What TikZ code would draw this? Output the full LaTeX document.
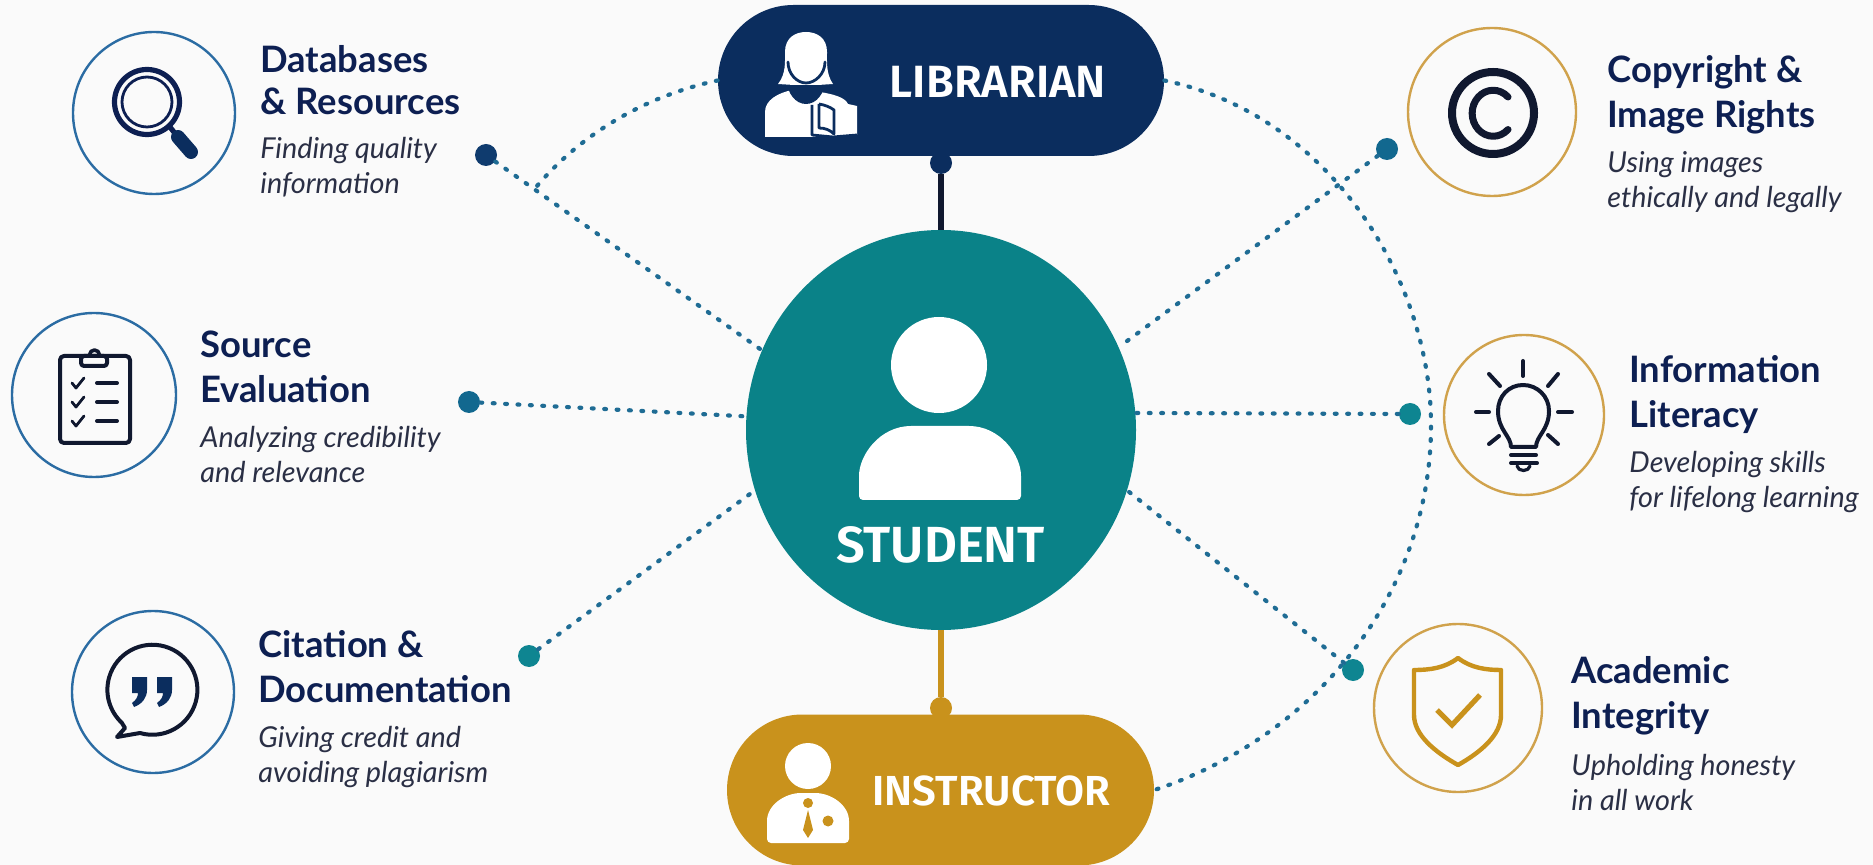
\documentclass[tikz,border=0pt]{standalone}
\usepackage{fontspec}
\setmainfont{Lato}
\newfontfamily\pillfont{Fira Sans SemiBold}
\usetikzlibrary{shapes.misc,shapes.geometric}
\definecolor{pagebg}{HTML}{FAFAFA}
\definecolor{tealhub}{HTML}{0A8288}
\definecolor{navypill}{HTML}{0B2D5E}
\definecolor{goldpill}{HTML}{C9921C}
\definecolor{titleink}{HTML}{0D1F52}
\definecolor{subink}{HTML}{2A2F45}
\definecolor{iconink}{HTML}{10182F}
\definecolor{ringblue}{HTML}{2B6CA3}
\definecolor{ringgold}{HTML}{D0A24C}
\definecolor{dotline}{HTML}{1F6C94}
\definecolor{dotnavy}{HTML}{0F3B6E}
\definecolor{dotblue}{HTML}{12688F}
\definecolor{dotteal}{HTML}{0E8591}
\tikzset{
  hubpill/.style={rounded rectangle, minimum width=#1, minimum height=75.5pt, inner sep=0pt},
  ringnode/.style={circle, minimum size=#1, inner sep=0pt, line width=1.2pt, fill=pagebg},
  enddot/.style={circle, minimum size=11pt, inner sep=0pt},
  dotted link/.style={draw=dotline, line width=2.1pt, line cap=round, dash pattern=on 0.9pt off 5.3pt},
  titletext/.style={anchor=base west, align=left, text=titleink, font={\fontsize{18.2}{22.5}\selectfont\bfseries}, inner sep=0pt},
  subtext/.style={anchor=base west, align=left, text=subink, font={\fontsize{14.4}{17.5}\selectfont\itshape}, inner sep=0pt},
  pilltext/.style={text=white, inner sep=0pt, font={\pillfont\fontsize{#1}{#1}\selectfont}},
  iconline/.style={draw=iconink, line width=2pt, line cap=round, line join=round}
}
\begin{document}
\begin{tikzpicture}[x=0.5pt,y=-0.5pt]
\path[use as bounding box, fill=pagebg] (0,0) rectangle (1873,865);
% hubs
\node[ellipse, fill=tealhub, minimum width=195pt, minimum height=200pt, inner sep=0pt] (student) at (941,430) {};
\node[hubpill=223pt, fill=navypill] (librarian) at (941,80.5) {};
\node[hubpill=213.5pt, fill=goldpill] (instructor) at (940.5,790) {};
\node[pilltext=22.6] (librarianlabel) at (998,82) {LIBRARIAN};
\node[pilltext=21] (instructorlabel) at (991.5,791) {INSTRUCTOR};
\node[pilltext=25.4] (studentlabel) at (940.5,545) {STUDENT};
% long dotted arcs
\coordinate (dbjoin) at (537,186);
\draw[dotted link] (librarian.west) .. controls (650,95) and (585,130) .. (dbjoin);
\draw[dotted link] (librarian.east) .. controls (1330,115) and (1431,280) .. (1431,425) .. controls (1431,590) and (1320,735) .. (instructor.east);
% end dots
\node[enddot, fill=dotnavy] (dbdot) at (486,155) {};
\node[enddot, fill=dotblue] (sourcedot) at (469,402) {};
\node[enddot, fill=dotteal] (citedot) at (529,656) {};
\node[enddot, fill=dotblue] (copydot) at (1387,149) {};
\node[enddot, fill=dotteal] (infodot) at (1410,414) {};
\node[enddot, fill=dotteal] (acaddot) at (1353,670) {};
\node[enddot, fill=navypill] (libdot) at (941,163) {};
\node[enddot, fill=goldpill] (instdot) at (941,708) {};
% links to the student
\draw[line width=3pt, draw=iconink] (libdot) -- (student);
\draw[line width=3pt, draw=goldpill] (instdot) -- (student);
\draw[dotted link] (dbdot) -- (student.156);
\draw[dotted link] (sourcedot) -- (student.176);
\draw[dotted link] (citedot) -- (student.198);
\draw[dotted link] (copydot) -- (student.25);
\draw[dotted link] (infodot) -- (student.5);
\draw[dotted link] (acaddot) -- (student.-18);
% rings
\node[ringnode=81pt, draw=ringblue] (dbring) at (154,113) {};
\node[ringnode=82pt, draw=ringblue] (sourcering) at (94,395) {};
\node[ringnode=81pt, draw=ringblue] (citering) at (153,692) {};
\node[ringnode=84pt, draw=ringgold] (copyring) at (1492,112) {};
\node[ringnode=80pt, draw=ringgold] (inforing) at (1524,415) {};
\node[ringnode=84pt, draw=ringgold] (acadring) at (1458,708) {};
% texts
\node[titletext] (dbtitle) at (260,115) {Databases\\[-1.5pt]\& Resources};
\node[subtext] (dbsub) at (260,194) {Finding quality\\information};
\node[titletext] (sourcetitle) at (200,403) {Source\\Evaluation};
\node[subtext] (sourcesub) at (200,483) {Analyzing credibility\\and relevance};
\node[titletext] (citetitle) at (258,702) {Citation \&\\Documentation};
\node[subtext] (citesub) at (258,782) {Giving credit and\\avoiding plagiarism};
\node[titletext] (copytitle) at (1607,128) {Copyright \&\\Image Rights};
\node[subtext] (copysub) at (1607,208) {Using images\\ethically and legally};
\node[titletext] (infotitle) at (1629,428) {Information\\Literacy};
\node[subtext] (infosub) at (1629,508) {Developing skills\\for lifelong learning};
\node[titletext] (acadtitle) at (1571,728) {Academic\\Integrity};
\node[subtext] (acadsub) at (1571,810) {Upholding honesty\\in all work};
% student figure
\fill[white] (939,365) circle (48);
\fill[white, rounded corners=2pt] (859,500) -- (859,480) .. controls (859,455) and (880,426) .. (915,426) -- (965,426) .. controls (1000,426) and (1021,455) .. (1021,480) -- (1021,500) -- cycle;
% librarian figure
\fill[white] (765,137) -- (765,112) .. controls (765,100) and (778,93) .. (792,90) -- (820,92) .. controls (832,94) and (845,97) .. (848,104) -- (857,106) -- (857,135) -- (833,137) -- cycle;
\fill[navypill] (806,80) ellipse (19 and 24);
\fill[white] (778,84) .. controls (786,74) and (785,62) .. (785,52) .. controls (785,38) and (795,32) .. (806,32) .. controls (817,32) and (827,38) .. (827,52) .. controls (827,62) and (826,74) .. (833,84) -- (818,85) -- (794,85) -- cycle;
\draw[navypill, line width=1.4pt, line cap=round] (788,62) .. controls (788,74) and (797,83) .. (806,83) .. controls (815,83) and (825,74) .. (825,62);
\draw[navypill, line width=1.4pt, line join=round] (812,105) -- (812,135) -- (833,137) -- (857,135);
\draw[navypill, line width=1.4pt, line join=round] (819,104) -- (819,128) .. controls (825,128) and (830,130) .. (834,134) -- (834,110) .. controls (830,107) and (825,105) .. (819,104);
% instructor figure
\fill[white] (808,766) circle (23);
\fill[white, rounded corners=2pt] (767,843) -- (767,825) .. controls (767,805) and (785,793) .. (805,793) -- (811,793) .. controls (831,793) and (849,805) .. (849,825) -- (849,843) -- cycle;
\fill[goldpill] (808,803) circle (5);
\fill[goldpill] (808,810) -- (813,830) -- (808,838) -- (803,830) -- cycle;
\fill[goldpill] (828,821) circle (5.5);
% magnifier
\draw[draw=titleink, line width=2.6pt] (147,102) circle (32.5);
\draw[draw=titleink, line width=1.4pt] (147,102) circle (25);
\draw[draw=titleink, line width=2.6pt] (170,127) -- (177,136);
\draw[draw=navypill, line width=7pt, line cap=round] (178,137) -- (191,152);
% clipboard
\draw[iconline, rounded corners=2pt] (60,356) rectangle (130,443);
\draw[iconline, fill=pagebg, rounded corners=1.5pt] (81,356) rectangle (107,366);
\draw[iconline, line width=1.8pt] (89.5,355) arc[start angle=180, end angle=360, radius=5];
\draw[iconline, line width=1.4pt] (72,383) -- (76,388) -- (84,378);
\draw[iconline, line width=1.4pt] (72,402) -- (76,407) -- (84,397);
\draw[iconline, line width=1.4pt] (72,421) -- (76,426) -- (84,416);
\draw[iconline] (97,383) -- (117,383);
\draw[iconline] (97,402) -- (117,402);
\draw[iconline] (97,421) -- (117,421);
% speech bubble
\draw[iconline] (140,733) arc[start angle=106, end angle=-227, radius=45] -- (125,728) -- (117,737) -- cycle;
\fill[navypill] (132,677) -- (147,677) -- (147,690) .. controls (147,698) and (142,704) .. (134,707) -- (132,703) .. controls (136,700) and (138,697) .. (138,693) -- (132,693) -- cycle;
\fill[navypill] (157,677) -- (172,677) -- (172,690) .. controls (172,698) and (167,704) .. (159,707) -- (157,703) .. controls (161,700) and (163,697) .. (163,693) -- (157,693) -- cycle;
% copyright mark
\draw[iconline, line width=4pt] (1493,113) circle (41);
\draw[iconline, line width=3.5pt] (1508,97) arc[start angle=-45, end angle=-315, x radius=21, y radius=23];
% bulb
\draw[iconline] (1511,447) .. controls (1511,436) and (1498,430) .. (1498,411) .. controls (1498,396) and (1509,385) .. (1523,385) .. controls (1537,385) and (1549,396) .. (1549,411) .. controls (1549,430) and (1536,436) .. (1536,447) -- cycle;
\draw[iconline] (1511,455) -- (1536,455);
\draw[iconline] (1511,463) -- (1537,463);
\draw[iconline, line width=1.6pt] (1517,466) .. controls (1518,472) and (1529,472) .. (1530,466);
\draw[iconline] (1523,361) -- (1523,376);
\draw[iconline] (1489,374) -- (1500,386);
\draw[iconline] (1558,374) -- (1548,386);
\draw[iconline] (1476,412) -- (1489,412);
\draw[iconline] (1558,412) -- (1572,412);
\draw[iconline] (1489,444) -- (1499,436);
\draw[iconline] (1558,444) -- (1548,435);
% shield
\draw[draw=goldpill, line width=2.2pt, line join=round] (1458,658) .. controls (1445,668) and (1430,670) .. (1414,670) -- (1414,715) .. controls (1414,735) and (1435,752) .. (1458,765) .. controls (1481,752) and (1501,735) .. (1501,715) -- (1501,670) .. controls (1486,670) and (1471,668) .. (1458,658) -- cycle;
\draw[draw=goldpill, line width=2.6pt, line join=miter] (1437,710) -- (1452,725) -- (1480,695);
\end{tikzpicture}
\end{document}
